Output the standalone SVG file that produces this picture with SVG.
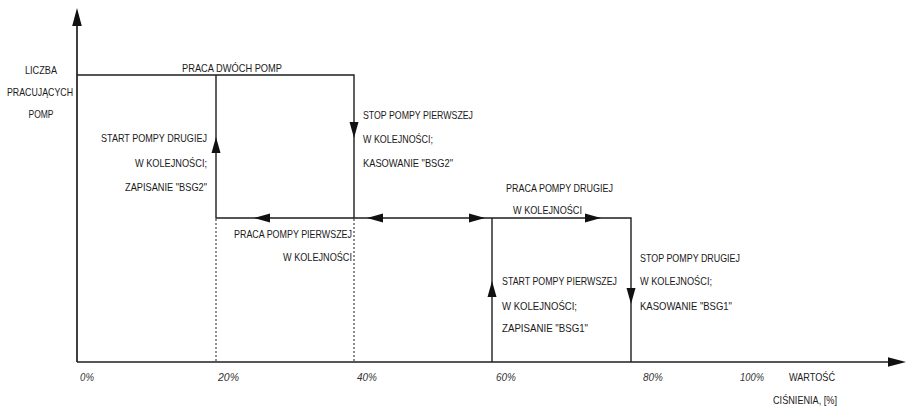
<svg xmlns="http://www.w3.org/2000/svg" xmlns:xlink="http://www.w3.org/1999/xlink" width="907" height="406" viewBox="0 0 907 406">
<style>
.ln{stroke:#1e1e1e;stroke-width:1.4;fill:none}
.ax{stroke:#1e1e1e;stroke-width:1.7;fill:none}
.dt{stroke:#1e1e1e;stroke-width:1;stroke-dasharray:2,2;fill:none}
.t{font-family:"Liberation Sans",Arial,sans-serif;font-size:10.5px;fill:#1a1a1a}
.p{font-family:"Liberation Sans",Arial,sans-serif;font-size:10px;font-style:italic;fill:#333}
.ah{fill:#111}
</style>
<defs>
<path id="ah" d="M0,0 L-16,-4.5 L-16,4.5 Z"/>
<path id="axh" d="M0,0 L-18,-4.8 L-18,4.8 Z"/>
</defs>
<rect width="907" height="406" fill="#fff"/>
<g id="axes">
<line class="ax" x1="77" y1="362" x2="77" y2="20"/>
<line class="ax" x1="77" y1="362" x2="895" y2="362"/>
<use xlink:href="#axh" class="ah" transform="translate(77,8) rotate(-90)"/>
<use xlink:href="#axh" class="ah" transform="translate(906,362)"/>
</g>
<g id="connectors">
<polyline class="ln" points="77,75 354,75 354,218 631,218 631,362"/>
<polyline class="ln" points="216,75 216,218 354,218"/>
<line class="ln" x1="492" y1="218" x2="492" y2="362"/>
<line class="dt" x1="216" y1="219" x2="216" y2="362"/>
<line class="dt" x1="354" y1="219" x2="354" y2="362"/>
<use xlink:href="#ah" class="ah" transform="translate(216,137) rotate(-90)"/>
<use xlink:href="#ah" class="ah" transform="translate(354,138) rotate(90)"/>
<use xlink:href="#ah" class="ah" transform="translate(254,218) rotate(180)"/>
<use xlink:href="#ah" class="ah" transform="translate(367,218) rotate(180)"/>
<use xlink:href="#ah" class="ah" transform="translate(485,218)"/>
<use xlink:href="#ah" class="ah" transform="translate(601,218)"/>
<use xlink:href="#ah" class="ah" transform="translate(492,281) rotate(-90)"/>
<use xlink:href="#ah" class="ah" transform="translate(631,304) rotate(90)"/>
</g>
<g id="y-label" class="t" text-anchor="middle">
<text x="41" y="74" textLength="32" lengthAdjust="spacingAndGlyphs">LICZBA</text>
<text x="40" y="96" textLength="66" lengthAdjust="spacingAndGlyphs">PRACUJĄCYCH</text>
<text x="41" y="118" textLength="25" lengthAdjust="spacingAndGlyphs">POMP</text>
</g>
<g id="two-pumps" class="t">
<text x="182" y="72" textLength="100" lengthAdjust="spacingAndGlyphs">PRACA DWÓCH POMP</text>
</g>
<g id="start-second" class="t" text-anchor="end">
<text x="207" y="142" textLength="106" lengthAdjust="spacingAndGlyphs">START POMPY DRUGIEJ</text>
<text x="207" y="167" textLength="72" lengthAdjust="spacingAndGlyphs">W KOLEJNOŚCI;</text>
<text x="207" y="191" textLength="82" lengthAdjust="spacingAndGlyphs">ZAPISANIE "BSG2"</text>
</g>
<g id="first-pump" class="t" text-anchor="end">
<text x="352" y="238" textLength="118" lengthAdjust="spacingAndGlyphs">PRACA POMPY PIERWSZEJ</text>
<text x="352" y="261" textLength="69" lengthAdjust="spacingAndGlyphs">W KOLEJNOŚCI</text>
</g>
<g id="stop-first" class="t">
<text x="363" y="119" textLength="110" lengthAdjust="spacingAndGlyphs">STOP POMPY PIERWSZEJ</text>
<text x="363" y="143" textLength="70" lengthAdjust="spacingAndGlyphs">W KOLEJNOŚCI;</text>
<text x="363" y="167" textLength="90" lengthAdjust="spacingAndGlyphs">KASOWANIE "BSG2"</text>
</g>
<g id="second-pump" class="t">
<text x="506" y="192" textLength="107" lengthAdjust="spacingAndGlyphs">PRACA POMPY DRUGIEJ</text>
<text x="513" y="214" textLength="69" lengthAdjust="spacingAndGlyphs">W KOLEJNOŚCI</text>
</g>
<g id="start-first" class="t">
<text x="502" y="285" textLength="115" lengthAdjust="spacingAndGlyphs">START POMPY PIERWSZEJ</text>
<text x="502" y="310" textLength="75" lengthAdjust="spacingAndGlyphs">W KOLEJNOŚCI;</text>
<text x="502" y="332" textLength="86" lengthAdjust="spacingAndGlyphs">ZAPISANIE "BSG1"</text>
</g>
<g id="stop-second" class="t">
<text x="640" y="262" textLength="100" lengthAdjust="spacingAndGlyphs">STOP POMPY DRUGIEJ</text>
<text x="640" y="285" textLength="72" lengthAdjust="spacingAndGlyphs">W KOLEJNOŚCI;</text>
<text x="640" y="310" textLength="92" lengthAdjust="spacingAndGlyphs">KASOWANIE "BSG1"</text>
</g>
<g id="ticks" class="p">
<text x="80" y="381" textLength="14" lengthAdjust="spacingAndGlyphs">0%</text>
<text x="218" y="381" textLength="21" lengthAdjust="spacingAndGlyphs">20%</text>
<text x="357" y="381" textLength="20" lengthAdjust="spacingAndGlyphs">40%</text>
<text x="496" y="381" textLength="20" lengthAdjust="spacingAndGlyphs">60%</text>
<text x="643" y="381" textLength="20" lengthAdjust="spacingAndGlyphs">80%</text>
<text x="740" y="381" textLength="24" lengthAdjust="spacingAndGlyphs">100%</text>
</g>
<g id="x-label" class="t">
<text x="789" y="381" textLength="46" lengthAdjust="spacingAndGlyphs">WARTOŚĆ</text>
<text x="773" y="404" textLength="64" lengthAdjust="spacingAndGlyphs">CIŚNIENIA, [%]</text>
</g>
</svg>
